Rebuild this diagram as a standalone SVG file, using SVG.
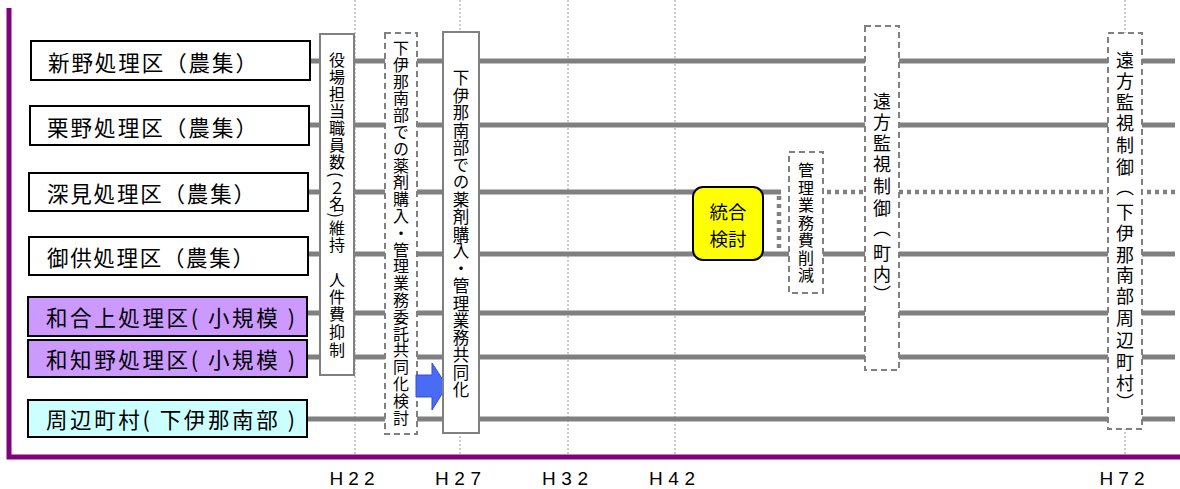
<svg xmlns="http://www.w3.org/2000/svg" width="1180" height="489" viewBox="0 0 1180 489">
<style>
.jp{font-family:"Noto Sans CJK JP","Noto Sans",sans-serif;fill:#000}
.lbl{font-size:21.5px;dominant-baseline:central}
.v{writing-mode:vertical-rl;text-anchor:start}
.node{stroke:#000;stroke-width:2}
.grid{stroke:#9a9a9a;stroke-width:1;stroke-dasharray:2 2;fill:none}
.row{stroke:#808080;stroke-width:5;fill:none}
.dot{stroke:#808080;stroke-width:4.5;stroke-dasharray:4 4;fill:none}
.sbox{fill:#fff;stroke:#808080;stroke-width:2}
.dbox{fill:#fff;stroke:#808080;stroke-width:2;stroke-dasharray:6 4}
.ax{font-family:"Liberation Sans",Arial,sans-serif;font-size:19px;fill:#000;text-anchor:middle}
</style>
<rect width="1180" height="489" fill="#fff"/>
<g id="grid">
<line class="grid" x1="355" y1="0" x2="355" y2="456"/>
<line class="grid" x1="460" y1="0" x2="460" y2="456"/>
<line class="grid" x1="568" y1="0" x2="568" y2="456"/>
<line class="grid" x1="675" y1="0" x2="675" y2="456"/>
<line class="grid" x1="1125" y1="0" x2="1125" y2="456"/>
</g>
<g id="connectors">
<line class="row" x1="310" y1="61" x2="1175" y2="61"/>
<line class="row" x1="309" y1="125" x2="1175" y2="125"/>
<line class="row" x1="308" y1="192" x2="781" y2="192"/>
<path class="dot" d="M779,196 V252"/>
<line class="dot" x1="827" y1="192" x2="1175" y2="192"/>
<line class="row" x1="308" y1="254" x2="1175" y2="254"/>
<line class="row" x1="307" y1="313" x2="1175" y2="313"/>
<line class="row" x1="307" y1="357" x2="1175" y2="357"/>
<line class="row" x1="307" y1="419" x2="1175" y2="419"/>
</g>
<g id="axis">
<path d="M9,8 V457 H1180" fill="none" stroke="#800080" stroke-width="5"/>
<text class="ax" x="352" y="485" textLength="45" lengthAdjust="spacing">H22</text>
<text class="ax" x="458" y="485" textLength="46" lengthAdjust="spacing">H27</text>
<text class="ax" x="565" y="485" textLength="46" lengthAdjust="spacing">H32</text>
<text class="ax" x="672" y="485" textLength="46" lengthAdjust="spacing">H42</text>
<text class="ax" x="1122" y="485" textLength="45" lengthAdjust="spacing">H72</text>
</g>
<g id="node-shinno">
<rect class="node" x="31" y="41" width="279" height="39" fill="#fff"/>
<text class="jp lbl" x="48" y="61" textLength="209" lengthAdjust="spacing">新野処理区（農集）</text>
</g>
<g id="node-awano">
<rect class="node" x="30" y="106" width="279" height="39" fill="#fff"/>
<text class="jp lbl" x="47" y="126" textLength="210" lengthAdjust="spacing">栗野処理区（農集）</text>
</g>
<g id="node-fukami">
<rect class="node" x="29" y="173" width="279" height="38" fill="#fff"/>
<text class="jp lbl" x="47" y="192" textLength="208" lengthAdjust="spacing">深見処理区（農集）</text>
</g>
<g id="node-mitomo">
<rect class="node" x="29" y="237" width="279" height="38" fill="#fff"/>
<text class="jp lbl" x="47" y="256" textLength="207" lengthAdjust="spacing">御供処理区（農集）</text>
</g>
<g id="node-wagouue">
<rect class="node" x="28" y="297" width="279" height="39" fill="#cc99ff"/>
<text class="jp lbl" x="46" y="316" textLength="249" lengthAdjust="spacing">和合上処理区( 小規模 )</text>
</g>
<g id="node-wachino">
<rect class="node" x="28" y="340" width="279" height="37" fill="#cc99ff"/>
<text class="jp lbl" x="46" y="358" textLength="249" lengthAdjust="spacing">和知野処理区( 小規模 )</text>
</g>
<g id="node-shuhen">
<rect class="node" x="28" y="400" width="279" height="37" fill="#ccffff"/>
<text class="jp lbl" x="46" y="418" textLength="249" lengthAdjust="spacing">周辺町村( 下伊那南部 )</text>
</g>
<g id="box-staff">
<rect class="sbox" x="320" y="34" width="34" height="341"/>
<text class="jp v" font-size="16"><tspan x="337" y="52">役</tspan><tspan x="337" y="69">場</tspan><tspan x="337" y="86">担</tspan><tspan x="337" y="103">当</tspan><tspan x="337" y="120">職</tspan><tspan x="337" y="137">員</tspan><tspan x="337" y="154">数</tspan><tspan x="337" y="172">(</tspan><tspan x="337" y="180">２</tspan><tspan x="337" y="196">名</tspan><tspan x="337" y="213">)</tspan><tspan x="337" y="220">維</tspan><tspan x="337" y="237">持</tspan><tspan x="337" y="272">人</tspan><tspan x="337" y="289">件</tspan><tspan x="337" y="306">費</tspan><tspan x="337" y="324">抑</tspan><tspan x="337" y="342">制</tspan></text>
</g>
<g id="box-study">
<rect class="dbox" x="385" y="33" width="32" height="401"/>
<text class="jp v" font-size="16"><tspan x="401" y="40">下</tspan><tspan x="401" y="56.8">伊</tspan><tspan x="401" y="73.6">那</tspan><tspan x="401" y="90.4">南</tspan><tspan x="401" y="107.2">部</tspan><tspan x="401" y="124">で</tspan><tspan x="401" y="140.8">の</tspan><tspan x="401" y="157.6">薬</tspan><tspan x="401" y="174.4">剤</tspan><tspan x="401" y="191.2">購</tspan><tspan x="401" y="208">入</tspan><tspan x="401" y="224.8">・</tspan><tspan x="401" y="241.6">管</tspan><tspan x="401" y="258.4">理</tspan><tspan x="401" y="275.2">業</tspan><tspan x="401" y="292">務</tspan><tspan x="401" y="308.8">委</tspan><tspan x="401" y="325.6">託</tspan><tspan x="401" y="342.4">共</tspan><tspan x="401" y="359.2">同</tspan><tspan x="401" y="376">化</tspan><tspan x="401" y="392.8">検</tspan><tspan x="401" y="409.6">討</tspan></text>
</g>
<g id="arrow">
<path d="M416,375 H432 V363 L447,386 L432,410 V397 H416 Z" fill="#4a6cf5" stroke="#2f4fd0" stroke-width="1"/>
</g>
<g id="box-joint">
<rect class="sbox" x="443" y="32" width="36" height="401"/>
<text class="jp v" font-size="16.5"><tspan x="461" y="69.8">下</tspan><tspan x="461" y="87.1">伊</tspan><tspan x="461" y="104.4">那</tspan><tspan x="461" y="121.7">南</tspan><tspan x="461" y="139">部</tspan><tspan x="461" y="156.3">で</tspan><tspan x="461" y="173.6">の</tspan><tspan x="461" y="190.9">薬</tspan><tspan x="461" y="208.2">剤</tspan><tspan x="461" y="225.5">購</tspan><tspan x="461" y="242.8">入</tspan><tspan x="461" y="260.1">・</tspan><tspan x="461" y="277.4">管</tspan><tspan x="461" y="294.7">理</tspan><tspan x="461" y="312">業</tspan><tspan x="461" y="329.3">務</tspan><tspan x="461" y="346.6">共</tspan><tspan x="461" y="363.9">同</tspan><tspan x="461" y="381.2">化</tspan></text>
</g>
<g id="node-integration">
<rect x="693" y="187" width="70" height="73" rx="10" fill="#ffff00" stroke="#000" stroke-width="2"/>
<text class="jp" font-size="18.5" text-anchor="middle" dominant-baseline="central"><tspan x="728" y="211">統合</tspan><tspan x="728" y="238">検討</tspan></text>
</g>
<g id="box-cost">
<rect class="dbox" x="789" y="152" width="34" height="141"/>
<text class="jp v" font-size="16"><tspan x="806" y="162">管</tspan><tspan x="806" y="179.5">理</tspan><tspan x="806" y="197">業</tspan><tspan x="806" y="214.5">務</tspan><tspan x="806" y="232">費</tspan><tspan x="806" y="249.5">削</tspan><tspan x="806" y="267">減</tspan></text>
</g>
<g id="box-remote-town">
<rect class="dbox" x="865" y="26" width="34" height="344"/>
<text class="jp v" font-size="18"><tspan x="882" y="92">遠</tspan><tspan x="882" y="113">方</tspan><tspan x="882" y="134">監</tspan><tspan x="882" y="155">視</tspan><tspan x="882" y="177">制</tspan><tspan x="882" y="199">御</tspan><tspan x="882" y="219">（</tspan><tspan x="882" y="244">町</tspan><tspan x="882" y="265">内</tspan><tspan x="882" y="285">）</tspan></text>
</g>
<g id="box-remote-region">
<rect class="dbox" x="1108" y="33" width="34" height="396"/>
<text class="jp v" font-size="18"><tspan x="1125" y="51">遠</tspan><tspan x="1125" y="72">方</tspan><tspan x="1125" y="93">監</tspan><tspan x="1125" y="114">視</tspan><tspan x="1125" y="136">制</tspan><tspan x="1125" y="158">御</tspan><tspan x="1125" y="178">（</tspan><tspan x="1125" y="203">下</tspan><tspan x="1125" y="224">伊</tspan><tspan x="1125" y="246">那</tspan><tspan x="1125" y="266">南</tspan><tspan x="1125" y="287">部</tspan><tspan x="1125" y="309">周</tspan><tspan x="1125" y="331">辺</tspan><tspan x="1125" y="353">町</tspan><tspan x="1125" y="374">村</tspan><tspan x="1125" y="393">）</tspan></text>
</g>
</svg>
